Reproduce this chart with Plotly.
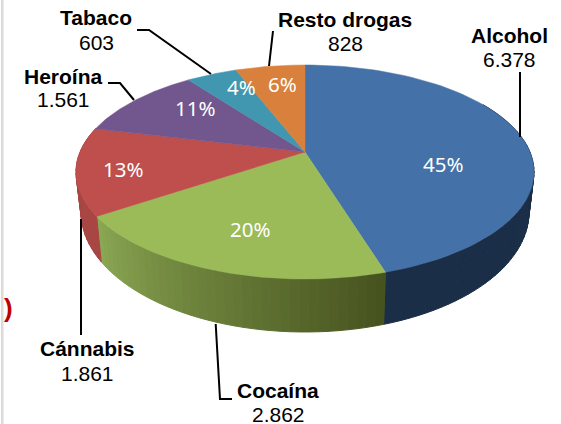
import numpy as np
import plotly.graph_objects as go

# values from the chart, clockwise from 12 o'clock
categories = ['Alcohol', 'Cocaína', 'Cánnabis', 'Heroína', 'Tabaco', 'Resto drogas']
values = [6378, 2862, 1861, 1561, 603, 828]
value_labels = ['6.378', '2.862', '1.861', '1.561', '603', '828']

top_colors = ['#4471A7', '#9BBB59', '#BE4F4C', '#72568E', '#4097AF', '#D9803C']
wall_left = ['#1B2E47', '#8CA954', '#A84644', '#5A4470', '#337A8C', '#AD6630']
wall_right = ['#1B2E47', '#47531F', '#A84644', '#5A4470', '#337A8C', '#AD6630']

# screen geometry of the tilted disc
CX, CY_TOP, RX_TOP, RY_TOP = 305, 172, 229, 107
CY_BOT, RX_BOT, RY_BOT = 212, 224, 120
TILT = 0.187


def project(deg, cy, rx, ry):
    # perspective: circle stays an ellipse but the apex moves up
    t = np.radians(deg)
    u, v = np.sin(t), np.cos(t)
    d = 1 + TILT * v
    up = u * np.sqrt(1 - TILT ** 2) / d
    vp = (v + TILT) / d
    return CX + rx * up, cy - ry * vp


def lerp_color(a, b, f):
    ca = [int(a[i:i + 2], 16) for i in (1, 3, 5)]
    cb = [int(b[i:i + 2], 16) for i in (1, 3, 5)]
    return 'rgb(%d,%d,%d)' % tuple(round(x + (y - x) * f) for x, y in zip(ca, cb))


edges = np.concatenate([[0], np.cumsum(values)]) / sum(values) * 360
fig = go.Figure()

# side wall, only the part facing the viewer
for i in range(3):
    start = max(edges[i], 60)
    end = min(edges[i + 1], 300)
    steps = max(int((end - start) / 2), 1)
    grid = np.linspace(start, end, steps + 1)
    for k in range(steps):
        a = grid[k:k + 2]
        tx, ty = project(a, CY_TOP, RX_TOP, RY_TOP)
        bx, by = project(a, CY_BOT, RX_BOT, RY_BOT)
        col = lerp_color(wall_right[i], wall_left[i], (a[0] - start) / (end - start))
        fig.add_trace(go.Scatter(x=[tx[0], tx[1], bx[1], bx[0], tx[0]],
                                 y=[ty[0], ty[1], by[1], by[0], ty[0]],
                                 mode='lines', fill='toself', fillcolor=col,
                                 line=dict(color=col, width=1), hoverinfo='skip'))

# top face
apex_x, apex_y = CX, CY_TOP - RY_TOP * TILT
for i, name in enumerate(categories):
    a = np.linspace(edges[i], edges[i + 1], 80)
    x, y = project(a, CY_TOP, RX_TOP, RY_TOP)
    fig.add_trace(go.Scatter(x=np.r_[apex_x, x, apex_x], y=np.r_[apex_y, y, apex_y],
                             mode='lines', fill='toself', fillcolor=top_colors[i],
                             line=dict(color=top_colors[i], width=0.5),
                             name=name, hoverinfo='skip'))

# leader lines
leaders = [
    ([520, 520], [72, 137]),
    ([273, 269], [31, 66]),
    ([137, 149, 211], [30, 30, 74]),
    ([108, 120, 134], [83, 83, 100]),
    ([81, 81], [219, 335]),
    ([215.7, 220, 232], [324, 399, 399]),
]
for lx, ly in leaders:
    fig.add_trace(go.Scatter(x=lx, y=ly, mode='lines', hoverinfo='skip',
                             line=dict(color='#000000', width=2)))

annotations = []


def add_text(x, y, text, size, color, family):
    annotations.append(dict(x=x, y=y, text=text, showarrow=False, xref='x', yref='y',
                            xanchor='center', yanchor='middle',
                            font=dict(size=size, color=color, family=family)))


name_pos = [(509, 35), (278, 390), (87, 348), (63, 76), (96, 17), (345, 19)]
value_pos = [(509, 59), (278, 414), (87, 373), (63, 99), (96, 42), (345, 43)]
pct_pos = [(443, 164), (250, 229), (123, 169), (195, 108), (241, 87), (282, 84)]
total = sum(values)
for i, name in enumerate(categories):
    add_text(*name_pos[i], '<b>%s</b>' % name, 21, '#000000', 'Liberation Sans')
    add_text(*value_pos[i], value_labels[i], 21, '#000000', 'Liberation Sans')
    add_text(*pct_pos[i], '%d%%' % round(values[i] / total * 100), 20.5, '#FFFFFF', 'Noto Sans')

# stray bracket cut off at the slide edge
add_text(8.5, 308, '<b>)</b>', 26, '#C00000', 'Liberation Sans')

fig.update_layout(
    width=561, height=424, autosize=False,
    margin=dict(l=0, r=0, t=0, b=0),
    paper_bgcolor='#FFFFFF', plot_bgcolor='#FFFFFF',
    showlegend=False,
    xaxis=dict(range=[0, 561], visible=False, fixedrange=True),
    yaxis=dict(range=[424, 0], visible=False, fixedrange=True),
    annotations=annotations,
    shapes=[dict(type='rect', xref='x', yref='y', x0=1, x1=3.5, y0=0, y1=424,
                 fillcolor='#DEDADA', line=dict(width=0))],
)
fig.write_html("out.html", config=dict(displayModeBar=False),
               post_script="document.body.style.margin='0';")
